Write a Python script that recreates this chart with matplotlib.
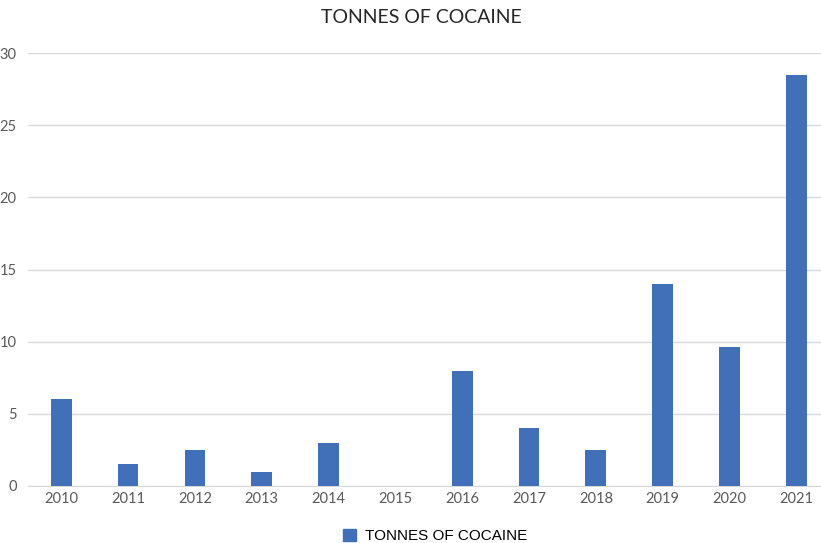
import matplotlib
matplotlib.use("Agg")
import matplotlib.pyplot as plt
from matplotlib.patches import Patch

years = ["2010", "2011", "2012", "2013", "2014", "2015", "2016", "2017", "2018", "2019", "2020", "2021"]
tonnes = [6, 1.5, 2.5, 1, 3, 0, 8, 4, 2.5, 14, 9.6, 28.5]
yticks = [0, 5, 10, 15, 20, 25, 30]

bar_color = "#4170B8"

fig = plt.figure(figsize=(8.21, 5.43), dpi=100)
ax = fig.add_axes([0.034, 0.105, 0.966, 0.797])
x = list(range(len(years)))
ax.bar(x, tonnes, width=0.31, color=bar_color, zorder=3)
ax.set_xlim(-0.5, 11.37)
ax.set_ylim(0, 30)
ax.set_yticks(yticks)
ax.set_yticklabels([str(t) for t in yticks], fontfamily="Lato", fontsize=10.5, color="#595959")
ax.set_xticks(x)
ax.set_xticklabels(years, fontfamily="Lato", fontsize=10.5, color="#595959")
ax.grid(axis="y", color="#d9d9d9", linewidth=1, zorder=0)
for s in ["top", "right", "left"]:
    ax.spines[s].set_visible(False)
ax.spines["bottom"].set_color("#d9d9d9")
ax.tick_params(axis="both", length=0, pad=4)
ax.tick_params(axis="y", pad=8)

fig.text(0.513, 0.967, "TONNES OF COCAINE", ha="center", va="center",
         fontfamily="Lato", fontsize=14, color="#262626")

fig.legend(handles=[Patch(color=bar_color, label="TONNES OF COCAINE")],
           loc="center", bbox_to_anchor=(0.53, 0.013), frameon=False,
           prop={"family": "Liberation Sans", "size": 11},
           handlelength=0.8, handleheight=0.8, handletextpad=0.6)

fig.savefig("out.png", dpi=100)
